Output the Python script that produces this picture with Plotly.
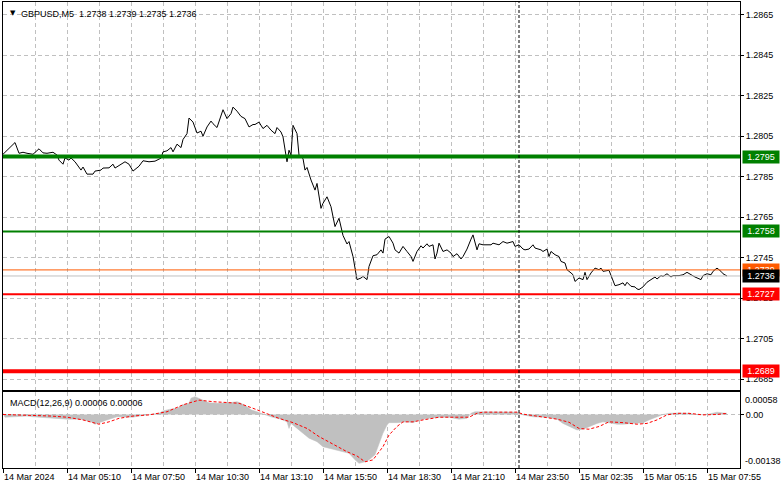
import plotly.graph_objects as go

# ---------------- data ----------------
price_bars = [0, 6, 8, 10, 12, 15, 18, 20, 22, 25, 27, 28, 30, 31, 33, 34, 36, 39, 40, 42, 45, 46, 49, 50, 53, 55, 56, 59, 61, 63, 65, 67, 68, 70, 73, 76, 79, 80, 82, 84, 85, 87, 89, 90, 92, 93, 95, 97, 99, 100, 102, 104, 105, 107, 108, 110, 112, 114, 115, 117, 119, 121, 123, 125, 126, 128, 130, 132, 134, 136, 137, 139, 140, 141, 142, 143, 144, 145, 147, 148, 150, 151, 152, 154, 156, 157, 159, 160, 162, 164, 166, 168, 170, 172, 173, 175, 177, 179, 180, 182, 183, 185, 187, 189, 190, 191, 193, 195, 196, 198, 200, 202, 204, 205, 207, 209, 210, 212, 213, 215, 216, 217, 218, 220, 222, 224, 225, 227, 229, 230, 232, 234, 235, 237, 238, 240, 244, 245, 248, 250, 252, 255, 256, 258, 260, 261, 263, 265, 266, 269, 270, 272, 273, 274, 276, 278, 279, 281, 282, 284, 285, 286, 288, 290, 291, 292, 294, 296, 298, 299, 300, 303, 305, 306, 308, 310, 311, 312, 314, 316, 317, 318, 320, 322, 324, 326, 327, 329, 330, 332, 334, 335, 338, 340, 342, 344, 346, 349, 350, 352, 354, 355, 357, 359, 360, 362]
price_close = [1.27961, 1.28019, 1.27966, 1.27971, 1.27966, 1.27961, 1.27988, 1.27968, 1.27966, 1.27971, 1.27957, 1.27932, 1.27912, 1.27943, 1.27932, 1.27943, 1.27924, 1.27883, 1.27898, 1.27863, 1.27863, 1.27878, 1.27883, 1.27893, 1.27894, 1.27912, 1.27893, 1.27912, 1.27924, 1.27912, 1.27878, 1.27894, 1.27902, 1.27929, 1.27924, 1.27927, 1.27942, 1.27973, 1.27978, 1.27994, 1.27973, 1.28011, 1.27994, 1.28034, 1.28063, 1.28140, 1.28120, 1.28066, 1.28075, 1.28050, 1.28096, 1.28125, 1.28112, 1.28093, 1.28120, 1.28181, 1.28137, 1.28162, 1.28194, 1.28174, 1.28148, 1.28137, 1.28096, 1.28108, 1.28108, 1.28120, 1.28088, 1.28104, 1.28080, 1.28063, 1.28093, 1.28071, 1.28047, 1.27990, 1.27924, 1.27981, 1.27957, 1.28104, 1.28063, 1.27957, 1.27940, 1.27883, 1.27896, 1.27834, 1.27784, 1.27817, 1.27694, 1.27719, 1.27751, 1.27702, 1.27604, 1.27645, 1.27560, 1.27518, 1.27530, 1.27456, 1.27342, 1.27350, 1.27358, 1.27342, 1.27407, 1.27460, 1.27465, 1.27489, 1.27473, 1.27542, 1.27555, 1.27522, 1.27489, 1.27473, 1.27506, 1.27481, 1.27456, 1.27432, 1.27481, 1.27509, 1.27498, 1.27519, 1.27506, 1.27514, 1.27444, 1.27473, 1.27522, 1.27481, 1.27489, 1.27473, 1.27456, 1.27470, 1.27444, 1.27456, 1.27493, 1.27542, 1.27563, 1.27489, 1.27519, 1.27514, 1.27514, 1.27522, 1.27514, 1.27530, 1.27522, 1.27530, 1.27506, 1.27514, 1.27493, 1.27489, 1.27493, 1.27514, 1.27498, 1.27489, 1.27481, 1.27493, 1.27456, 1.27481, 1.27465, 1.27456, 1.27432, 1.27424, 1.27391, 1.27375, 1.27366, 1.27333, 1.27350, 1.27342, 1.27378, 1.27342, 1.27375, 1.27399, 1.27391, 1.27399, 1.27383, 1.27388, 1.27342, 1.27312, 1.27317, 1.27326, 1.27312, 1.27329, 1.27309, 1.27306, 1.27296, 1.27293, 1.27306, 1.27329, 1.27342, 1.27355, 1.27345, 1.27362, 1.27358, 1.27371, 1.27355, 1.27362, 1.27362, 1.27366, 1.27378, 1.27366, 1.27355, 1.27342, 1.27362, 1.27371, 1.27366, 1.27383, 1.27399, 1.27383, 1.27371, 1.27360]

macd_bars = [0, 1, 5, 12, 15, 24, 32, 39, 44, 46, 48, 52, 57, 62, 65, 68, 73, 78, 80, 83, 87, 90, 93, 94, 96, 98, 100, 103, 107, 110, 113, 117, 119, 122, 124, 127, 129, 132, 134, 137, 139, 142, 143, 144, 146, 148, 151, 153, 157, 160, 163, 167, 170, 173, 176, 178, 181, 183, 186, 188, 190, 192, 193, 197, 202, 205, 208, 213, 218, 223, 228, 232, 234, 236, 240, 247, 253, 257, 260, 265, 272, 277, 280, 283, 287, 290, 293, 297, 300, 303, 307, 310, 315, 320, 323, 327, 330, 333, 338, 343, 348, 353, 357, 360, 362]
macd_main = [0.00003, -0.00007, -0.00006, -0.00004, -0.00006, -0.00010, -0.00012, -0.00012, -0.00019, -0.00025, -0.00021, -0.00014, -0.00006, -0.00006, -0.00007, -0.00004, -0.00001, 0.00003, 0.00009, 0.00013, 0.00016, 0.00025, 0.00029, 0.00042, 0.00046, 0.00042, 0.00036, 0.00030, 0.00029, 0.00029, 0.00030, 0.00033, 0.00029, 0.00020, 0.00012, 0.00007, 0.00003, -0.00001, -0.00006, -0.00010, -0.00012, -0.00019, -0.00036, -0.00023, -0.00031, -0.00040, -0.00053, -0.00061, -0.00070, -0.00083, -0.00087, -0.00092, -0.00096, -0.00100, -0.00117, -0.00126, -0.00122, -0.00117, -0.00104, -0.00074, -0.00048, -0.00027, -0.00021, -0.00021, -0.00019, -0.00021, -0.00014, -0.00010, -0.00007, -0.00007, -0.00012, -0.00010, 0.00003, 0.00007, 0.00007, 0.00006, 0.00007, 0.00006, -0.00001, -0.00006, -0.00007, -0.00012, -0.00023, -0.00031, -0.00040, -0.00038, -0.00031, -0.00023, -0.00019, -0.00021, -0.00025, -0.00025, -0.00023, -0.00021, -0.00014, -0.00007, 0.00000, 0.00003, 0.00004, 0.00003, -0.00001, 0.00001, 0.00006, 0.00004, 0.00003]

signal_bars = [0, 7, 15, 24, 32, 40, 48, 53, 58, 65, 73, 82, 90, 95, 98, 105, 112, 118, 125, 132, 138, 145, 152, 158, 165, 172, 177, 181, 185, 190, 193, 197, 200, 205, 210, 218, 227, 233, 237, 240, 248, 257, 260, 268, 277, 283, 288, 293, 298, 303, 310, 317, 322, 327, 332, 337, 343, 350, 357, 362]
signal_vals = [0.00000, -0.00001, -0.00003, -0.00004, -0.00007, -0.00014, -0.00025, -0.00019, -0.00010, -0.00004, -0.00001, 0.00007, 0.00025, 0.00033, 0.00037, 0.00033, 0.00030, 0.00029, 0.00016, 0.00001, -0.00010, -0.00021, -0.00036, -0.00057, -0.00076, -0.00096, -0.00107, -0.00122, -0.00117, -0.00083, -0.00053, -0.00031, -0.00019, -0.00019, -0.00014, -0.00007, -0.00007, -0.00007, 0.00003, 0.00006, 0.00006, 0.00006, 0.00001, -0.00006, -0.00012, -0.00020, -0.00036, -0.00038, -0.00031, -0.00019, -0.00021, -0.00025, -0.00023, -0.00014, -0.00001, 0.00003, 0.00003, -0.00001, 0.00000, 0.00003]

x_tick_bars = [0, 32, 64, 96, 128, 160, 192, 224, 256, 288, 320, 352]
x_tick_labels = ["14 Mar 2024", "14 Mar 05:10", "14 Mar 07:50", "14 Mar 10:30", "14 Mar 13:10",
                 "14 Mar 15:50", "14 Mar 18:30", "14 Mar 21:10", "14 Mar 23:50", "15 Mar 02:35",
                 "15 Mar 05:15", "15 Mar 07:55"]
price_ticks = [1.2685, 1.2705, 1.2725, 1.2745, 1.2765, 1.2785, 1.2805, 1.2825, 1.2845, 1.2865]
macd_edge_ticks = [0.00058, -0.00138]
day_separator_bar = 258

levels = [1.2795, 1.2758, 1.2727, 1.2689, 1.2739, 1.2736]
level_labels = ["1.2795", "1.2758", "1.2727", "1.2689", "1.2739", "1.2736"]
level_colors = ["#008000", "#008000", "#FF0000", "#FF0000", "#FF5A00", "#C0C0C0"]
level_box_colors = ["#008000", "#008000", "#FF0000", "#FF0000", "#FF5A00", "#000000"]
level_widths = [4, 2, 2, 4, 1, 1]

title_text = "GBPUSD,M5  1.2738 1.2739 1.2735 1.2736"
macd_text = "MACD(12,26,9) 0.00006 0.00006"

# ---------------- figure ----------------
FONT = "Liberation Sans"
GRID = "#C0C0C0"

fig = go.Figure()
fig.add_trace(go.Scatter(x=price_bars, y=price_close, mode="lines",
                         line=dict(color="black", width=1), xaxis="x", yaxis="y",
                         showlegend=False, hoverinfo="skip"))
fig.add_trace(go.Scatter(x=macd_bars, y=macd_main, mode="lines", fill="tozeroy",
                         fillcolor="#C0C0C0", line=dict(color="#C0C0C0", width=0.5),
                         xaxis="x2", yaxis="y2", showlegend=False, hoverinfo="skip"))
fig.add_trace(go.Scatter(x=signal_bars, y=signal_vals, mode="lines",
                         line=dict(color="#FF0000", width=1, dash="3px,2px"),
                         xaxis="x2", yaxis="y2", showlegend=False, hoverinfo="skip"))

shapes = []
for lv, col, w in zip(levels, level_colors, level_widths):
    shapes.append(dict(type="line", xref="x domain", x0=0, x1=1, yref="y", y0=lv, y1=lv,
                       line=dict(color=col, width=w), layer="above"))
shapes.append(dict(type="line", xref="x", x0=day_separator_bar, x1=day_separator_bar,
                   yref="paper", y0=0, y1=1, line=dict(color="black", width=1, dash="3px,2px")))

annotations = []
for lv, txt, bc in zip(levels, level_labels, level_box_colors):
    annotations.append(dict(xref="paper", x=1, xanchor="left", xshift=2, yref="y", y=lv,
                            yanchor="middle", text=txt, showarrow=False, bgcolor=bc,
                            width=34, height=10, borderpad=1, align="center",
                            font=dict(family=FONT, size=9, color="white")))
annotations.append(dict(xref="paper", x=0, xanchor="left", xshift=5, yref="paper", y=1,
                        yanchor="top", yshift=-5, text="▼", showarrow=False,
                        font=dict(family="DejaVu Sans", size=7, color="black")))
annotations.append(dict(xref="paper", x=0, xanchor="left", xshift=16, yref="paper", y=1,
                        yanchor="top", yshift=-5, text=title_text, showarrow=False,
                        font=dict(family=FONT, size=9, color="black")))
annotations.append(dict(xref="paper", x=0, xanchor="left", xshift=5, yref="y2 domain", y=1,
                        yanchor="top", yshift=-4, text=macd_text, showarrow=False,
                        font=dict(family=FONT, size=9, color="black")))
for v, ys in zip(macd_edge_ticks, [-8, 7]):
    annotations.append(dict(xref="paper", x=1, xanchor="left", xshift=3, yref="y2", y=v,
                            yanchor="middle", yshift=ys, text=f"{v:.5f}", showarrow=False,
                            font=dict(family=FONT, size=9, color="black")))

common_x = dict(range=[0, 368.5], showline=True, linecolor="black", linewidth=1, mirror=True,
                zeroline=False, fixedrange=True)

fig.update_layout(
    width=781, height=489,
    margin=dict(l=3, r=41, t=2, b=21),
    paper_bgcolor="white", plot_bgcolor="white",
    font=dict(family=FONT, size=9, color="black"),
    xaxis=dict(domain=[0, 1], anchor="y", tickmode="linear", tick0=0, dtick=16,
               showticklabels=False, ticks="", showgrid=True, gridcolor=GRID,
               griddash="4px,3px", gridwidth=1, **common_x),
    xaxis2=dict(domain=[0, 1], anchor="y2", tickmode="array", tickvals=x_tick_bars,
                ticktext=x_tick_labels, ticks="outside", ticklen=4, tickcolor="black",
                ticklabelposition="outside right", showgrid=True, gridcolor=GRID,
                griddash="4px,3px",
                minor=dict(tickmode="linear", tick0=0, dtick=16, showgrid=True,
                           gridcolor=GRID, griddash="4px,3px", ticks=""),
                tickfont=dict(family=FONT, size=9, color="black"), **common_x),
    yaxis=dict(domain=[0.1674, 1], anchor="x", side="right", range=[1.26797, 1.28713],
               tickmode="array", tickvals=price_ticks, tickformat=".4f", ticks="outside",
               ticklen=3, tickcolor="black", showgrid=True, gridcolor=GRID,
               griddash="4px,3px", showline=True, linecolor="black", mirror=True,
               zeroline=False, fixedrange=True,
               tickfont=dict(family=FONT, size=9, color="black")),
    yaxis2=dict(domain=[0, 0.1631], anchor="x2", side="right", range=[-0.00138, 0.00058],
                tickmode="array", tickvals=[0], ticktext=["0.00"], ticks="outside",
                ticklen=3, tickcolor="black", showgrid=True, gridcolor=GRID,
                griddash="4px,3px", showline=True, linecolor="black", mirror=True,
                zeroline=False, fixedrange=True,
                tickfont=dict(family=FONT, size=9, color="black")),
    shapes=shapes, annotations=annotations, showlegend=False,
)

fig.write_html("out.html", config={"displayModeBar": False},
               post_script="document.body.style.margin='0px';document.body.style.padding='0px';")
